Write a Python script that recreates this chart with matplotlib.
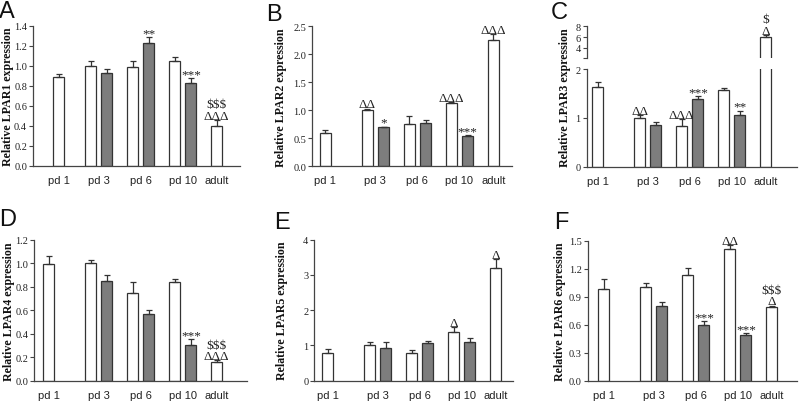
import matplotlib
matplotlib.use("Agg")
import matplotlib.pyplot as plt

# ---------------- data ----------------
categories = ["pd 1", "pd 3", "pd 6", "pd 10", "adult"]

# white bars: pd1, pd3, pd6, pd10, adult ; gray bars: pd3, pd6, pd10
lpar1_white = [0.89, 1.00, 0.99, 1.05, 0.40]
lpar1_white_err = [0.023, 0.05, 0.06, 0.034, 0.057]
lpar1_gray = [0.93, 1.23, 0.83]
lpar1_gray_err = [0.04, 0.06, 0.05]

lpar2_white = [0.60, 1.00, 0.76, 1.125, 2.26]
lpar2_white_err = [0.04, 0.03, 0.13, 0.02, 0.10]
lpar2_gray = [0.70, 0.77, 0.535]
lpar2_gray_err = [0.01, 0.05, 0.025]

lpar3_white = [1.64, 1.00, 0.83, 1.57, 6.0]
lpar3_white_err = [0.10, 0.05, 0.14, 0.05, 0.4]
lpar3_gray = [0.86, 1.38, 1.05]
lpar3_gray_err = [0.06, 0.07, 0.10]

lpar4_white = [0.995, 1.00, 0.745, 0.84, 0.156]
lpar4_white_err = [0.065, 0.03, 0.095, 0.025, 0.017]
lpar4_gray = [0.85, 0.57, 0.307]
lpar4_gray_err = [0.05, 0.03, 0.046]

lpar5_white = [0.79, 1.00, 0.78, 1.37, 3.19]
lpar5_white_err = [0.10, 0.11, 0.09, 0.14, 0.26]
lpar5_gray = [0.92, 1.07, 1.10]
lpar5_gray_err = [0.19, 0.07, 0.12]

lpar6_white = [0.98, 1.00, 1.13, 1.41, 0.79]
lpar6_white_err = [0.11, 0.05, 0.08, 0.04, 0.015]
lpar6_gray = [0.80, 0.60, 0.49]
lpar6_gray_err = [0.04, 0.04, 0.02]

# significance marks: (series, index, [lines from bottom to top])
marks_a = [("g", 1, ["**"]), ("g", 2, ["***"]), ("w", 4, ["ΔΔΔ", "$$$"])]
marks_b = [("w", 1, ["ΔΔ"]), ("g", 0, ["*"]), ("w", 3, ["ΔΔΔ"]), ("g", 2, ["***"]), ("w", 4, ["ΔΔΔ"])]
marks_c = [("w", 1, ["ΔΔ"]), ("w", 2, ["ΔΔΔ"]), ("g", 1, ["***"]), ("g", 2, ["**"]), ("w", 4, ["Δ", "$"])]
marks_d = [("g", 2, ["***"]), ("w", 4, ["ΔΔΔ", "$$$"])]
marks_e = [("w", 3, ["Δ"]), ("w", 4, ["Δ"])]
marks_f = [("g", 1, ["***"]), ("w", 3, ["ΔΔ"]), ("g", 2, ["***"]), ("w", 4, ["Δ", "$$$"])]

# ---------------- style / layout ----------------
SERIF = "Liberation Serif"
SANS = "Liberation Sans"
EDGE = "#333333"
GRAY = "#7d7d7d"
W, H = 800, 402
UNIT = 42.0          # px per group step
BW = 11.0 / UNIT     # bar width
GOFF = 16.3 / UNIT   # gray bar offset

fig = plt.figure(figsize=(W / 100, H / 100), dpi=100)


def make_ax(left, right, top, bottom):
    return fig.add_axes([left / W, 1 - bottom / H, (right - left) / W, (bottom - top) / H])


def style_ax(ax, show_bottom=True):
    for s in ("top", "right"):
        ax.spines[s].set_visible(False)
    ax.spines["left"].set_color("#444444")
    ax.spines["left"].set_linewidth(0.9)
    if show_bottom:
        ax.spines["bottom"].set_color("#444444")
        ax.spines["bottom"].set_linewidth(0.9)
    else:
        ax.spines["bottom"].set_visible(False)
    ax.tick_params(axis="y", direction="out", length=2.8, width=0.8, color="#444444",
                   labelsize=7.4, pad=1.5, labelcolor="#222222")
    ax.tick_params(axis="y", which="minor", direction="out", length=2.8, width=0.8,
                   color="#444444")
    ax.tick_params(axis="x", length=0, labelsize=8, pad=6.5, labelcolor="#222222")
    for lab in ax.get_yticklabels():
        lab.set_fontfamily(SERIF)
    for lab in ax.get_xticklabels():
        lab.set_fontfamily(SANS)


def draw_bars(ax, wx, gx, white, werr, gray, gerr):
    ax.bar(wx, white, width=BW, color="white", edgecolor=EDGE, linewidth=0.9, zorder=2)
    ax.bar(gx, gray, width=BW, color=GRAY, edgecolor=EDGE, linewidth=0.9, zorder=2)
    ax.errorbar(wx, white, yerr=[[0] * len(white), werr], fmt="none", ecolor=EDGE,
                elinewidth=0.9, capsize=2.4, capthick=0.9, zorder=3)
    ax.errorbar(gx, gray, yerr=[[0] * len(gray), gerr], fmt="none", ecolor=EDGE,
                elinewidth=0.9, capsize=2.4, capthick=0.9, zorder=3)


def draw_marks(ax, marks, wx, gx, white, werr, gray, gerr):
    for ser, i, lines in marks:
        if ser == "w":
            x, y = wx[i], white[i] + werr[i]
        else:
            x, y = gx[i], gray[i] + gerr[i]
        for k, t in enumerate(lines):
            base = 0.6 if t.startswith("*") else 1.0
            ax.annotate(t, xy=(x, y), xytext=(0, base + 8.0 * k), textcoords="offset points",
                        ha="center", va="baseline", fontsize=9.5, fontfamily=SERIF,
                        color="#222222", annotation_clip=False, zorder=4)


def panel(letter, letter_xy, ylabel, ylabel_x, box, xc, pd1_pos, white, werr, gray, gerr,
          marks, ylim, yticks, fmt, broken=None):
    left, right, top, bottom = box
    wx = [pd1_pos, 0, 1, 2, 3]
    gx = [GOFF, 1 + GOFF, 2 + GOFF]
    label_x = [pd1_pos, GOFF / 2, 1 + GOFF / 2, 2 + GOFF / 2, 3]
    xlim = ((left - xc) / UNIT, (right - xc) / UNIT)
    if broken is None:
        ax = make_ax(left, right, top, bottom)
        draw_bars(ax, wx, gx, white, werr, gray, gerr)
        ax.set_xlim(*xlim)
        ax.set_ylim(*ylim)
        ax.set_yticks(yticks)
        ax.set_yticklabels([fmt.format(v) for v in yticks])
        ax.set_xticks(label_x)
        ax.set_xticklabels(categories)
        style_ax(ax)
        draw_marks(ax, marks, wx, gx, white, werr, gray, gerr)
    else:
        (lo_top, lo_ylim, lo_ticks), (up_bottom, up_ylim, up_ticks) = broken
        ax = make_ax(left, right, lo_top, bottom)
        ax_up = make_ax(left, right, top, up_bottom)
        for a, yl, yt in ((ax, lo_ylim, lo_ticks), (ax_up, up_ylim, up_ticks)):
            draw_bars(a, wx, gx, white, werr, gray, gerr)
            a.set_xlim(*xlim)
            a.set_ylim(*yl)
            a.set_yticks(yt)
            a.set_yticklabels([fmt.format(v) for v in yt])
        ax_up.set_yticks([up_ylim[0]], minor=True)
        ax.set_xticks(label_x)
        ax.set_xticklabels(categories)
        ax_up.set_xticks([])
        style_ax(ax)
        style_ax(ax_up, show_bottom=False)
        ax_up.patch.set_alpha(0)
        ax.patch.set_alpha(0)
        lo_marks = [m for m in marks if not (m[0] == "w" and m[1] == 4)]
        up_marks = [m for m in marks if (m[0] == "w" and m[1] == 4)]
        draw_marks(ax, lo_marks, wx, gx, white, werr, gray, gerr)
        draw_marks(ax_up, up_marks, wx, gx, white, werr, gray, gerr)
    ycenter = (top + bottom) / 2
    fig.text(ylabel_x / W, 1 - ycenter / H, ylabel, rotation=90, ha="center", va="center",
             fontsize=8.6, fontweight="bold", fontfamily=SERIF, color="#111111")
    fig.text(letter_xy[0] / W, 1 - letter_xy[1] / H, letter, ha="left", va="top",
             fontsize=17, fontfamily=SANS, color="#111111")


panel("A", (-1, 1), "Relative LPAR1 expression", 8, (33, 240, 26.7, 166.7), 90.5, -0.76,
      lpar1_white, lpar1_white_err, lpar1_gray, lpar1_gray_err, marks_a,
      (0, 1.4), [0.0, 0.2, 0.4, 0.6, 0.8, 1.0, 1.2, 1.4], "{:.1f}")
panel("B", (266, 4), "Relative LPAR2 expression", 281, (312, 511.7, 27.3, 167.3), 367.2, -1.0,
      lpar2_white, lpar2_white_err, lpar2_gray, lpar2_gray_err, marks_b,
      (0, 2.5), [0.0, 0.5, 1.0, 1.5, 2.0, 2.5], "{:.1f}")
panel("C", (551, 2), "Relative LPAR3 expression", 565, (586.7, 797, 27.3, 167.5), 639.5, -1.0,
      lpar3_white, lpar3_white_err, lpar3_gray, lpar3_gray_err, marks_c,
      None, None, "{:.0f}",
      broken=((70.3, (0, 2), [0, 1, 2]), (59.3, (2.1, 8), [4, 6, 8])))
panel("D", (-1, 209), "Relative LPAR4 expression", 8.7, (34.3, 246.7, 241, 381.7), 90.5, -1.0,
      lpar4_white, lpar4_white_err, lpar4_gray, lpar4_gray_err, marks_d,
      (0, 1.2), [0.0, 0.2, 0.4, 0.6, 0.8, 1.0, 1.2], "{:.1f}")
panel("E", (274, 212), "Relative LPAR5 expression", 282.5, (314.3, 513.3, 240.7, 381.7), 369.5, -1.0,
      lpar5_white, lpar5_white_err, lpar5_gray, lpar5_gray_err, marks_e,
      (0, 4), [0, 1, 2, 3, 4], "{:.0f}")
panel("F", (554, 212), "Relative LPAR6 expression", 560.5, (587.7, 797, 241.7, 381.7), 645.5, -1.0,
      lpar6_white, lpar6_white_err, lpar6_gray, lpar6_gray_err, marks_f,
      (0, 1.5), [0.0, 0.3, 0.6, 0.9, 1.2, 1.5], "{:.1f}")

fig.savefig("out.png", dpi=100)
